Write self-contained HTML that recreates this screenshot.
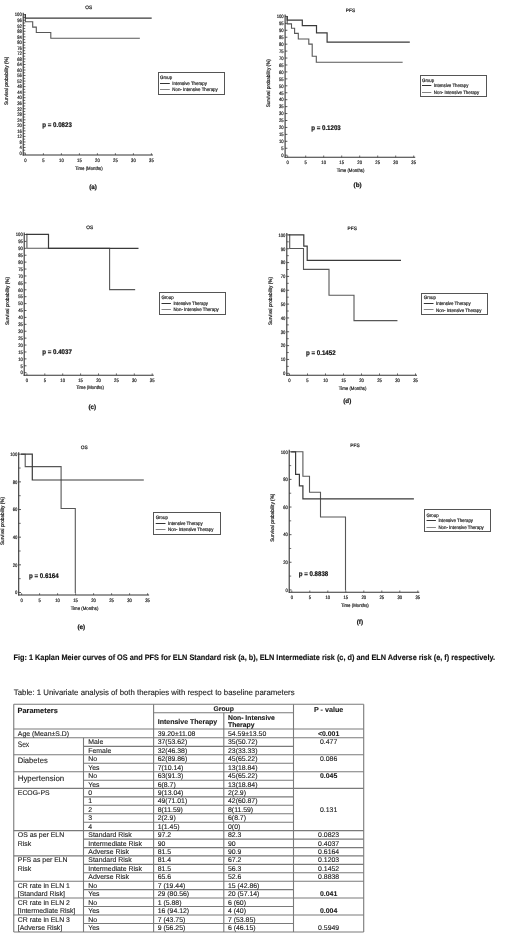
<!DOCTYPE html>
<html><head><meta charset="utf-8"><title>Kaplan Meier curves</title>
<style>
html,body{margin:0;padding:0;background:#fff;}
body{width:520px;height:943px;overflow:hidden;position:relative;font-family:"Liberation Sans", sans-serif;}
svg{position:absolute;left:0;top:0;font-family:"Liberation Sans", sans-serif;will-change:transform;text-rendering:geometricPrecision;}
</style></head><body>
<div id="wrap" style="position:absolute;left:0;top:0;width:520px;height:943px;background:#fff">
<svg width="520" height="943" viewBox="0 0 520 943">
<line x1="23.20" y1="12.70" x2="23.20" y2="155.50" stroke="#333" stroke-width="1.1"/>
<line x1="22.70" y1="155.00" x2="152.90" y2="155.00" stroke="#333" stroke-width="1.1"/>
<line x1="23.20" y1="153.00" x2="25.50" y2="153.00" stroke="#333" stroke-width="0.8"/>
<text x="21.80" y="154.76" font-size="4.90" text-anchor="end" stroke="#222" stroke-width="0.2" textLength="2.34" lengthAdjust="spacingAndGlyphs" fill="#222">0</text>
<line x1="23.20" y1="147.47" x2="25.50" y2="147.47" stroke="#333" stroke-width="0.8"/>
<text x="21.80" y="149.23" font-size="4.90" text-anchor="end" stroke="#222" stroke-width="0.2" textLength="2.34" lengthAdjust="spacingAndGlyphs" fill="#222">4</text>
<line x1="23.20" y1="141.94" x2="25.50" y2="141.94" stroke="#333" stroke-width="0.8"/>
<text x="21.80" y="143.70" font-size="4.90" text-anchor="end" stroke="#222" stroke-width="0.2" textLength="2.34" lengthAdjust="spacingAndGlyphs" fill="#222">8</text>
<line x1="23.20" y1="136.40" x2="25.50" y2="136.40" stroke="#333" stroke-width="0.8"/>
<text x="21.80" y="138.17" font-size="4.90" text-anchor="end" stroke="#222" stroke-width="0.2" textLength="4.67" lengthAdjust="spacingAndGlyphs" fill="#222">12</text>
<line x1="23.20" y1="130.87" x2="25.50" y2="130.87" stroke="#333" stroke-width="0.8"/>
<text x="21.80" y="132.64" font-size="4.90" text-anchor="end" stroke="#222" stroke-width="0.2" textLength="4.67" lengthAdjust="spacingAndGlyphs" fill="#222">16</text>
<line x1="23.20" y1="125.34" x2="25.50" y2="125.34" stroke="#333" stroke-width="0.8"/>
<text x="21.80" y="127.10" font-size="4.90" text-anchor="end" stroke="#222" stroke-width="0.2" textLength="4.67" lengthAdjust="spacingAndGlyphs" fill="#222">20</text>
<line x1="23.20" y1="119.81" x2="25.50" y2="119.81" stroke="#333" stroke-width="0.8"/>
<text x="21.80" y="121.57" font-size="4.90" text-anchor="end" stroke="#222" stroke-width="0.2" textLength="4.67" lengthAdjust="spacingAndGlyphs" fill="#222">24</text>
<line x1="23.20" y1="114.28" x2="25.50" y2="114.28" stroke="#333" stroke-width="0.8"/>
<text x="21.80" y="116.04" font-size="4.90" text-anchor="end" stroke="#222" stroke-width="0.2" textLength="4.67" lengthAdjust="spacingAndGlyphs" fill="#222">28</text>
<line x1="23.20" y1="108.74" x2="25.50" y2="108.74" stroke="#333" stroke-width="0.8"/>
<text x="21.80" y="110.51" font-size="4.90" text-anchor="end" stroke="#222" stroke-width="0.2" textLength="4.67" lengthAdjust="spacingAndGlyphs" fill="#222">32</text>
<line x1="23.20" y1="103.21" x2="25.50" y2="103.21" stroke="#333" stroke-width="0.8"/>
<text x="21.80" y="104.98" font-size="4.90" text-anchor="end" stroke="#222" stroke-width="0.2" textLength="4.67" lengthAdjust="spacingAndGlyphs" fill="#222">36</text>
<line x1="23.20" y1="97.68" x2="25.50" y2="97.68" stroke="#333" stroke-width="0.8"/>
<text x="21.80" y="99.44" font-size="4.90" text-anchor="end" stroke="#222" stroke-width="0.2" textLength="4.67" lengthAdjust="spacingAndGlyphs" fill="#222">40</text>
<line x1="23.20" y1="92.15" x2="25.50" y2="92.15" stroke="#333" stroke-width="0.8"/>
<text x="21.80" y="93.91" font-size="4.90" text-anchor="end" stroke="#222" stroke-width="0.2" textLength="4.67" lengthAdjust="spacingAndGlyphs" fill="#222">44</text>
<line x1="23.20" y1="86.62" x2="25.50" y2="86.62" stroke="#333" stroke-width="0.8"/>
<text x="21.80" y="88.38" font-size="4.90" text-anchor="end" stroke="#222" stroke-width="0.2" textLength="4.67" lengthAdjust="spacingAndGlyphs" fill="#222">48</text>
<line x1="23.20" y1="81.08" x2="25.50" y2="81.08" stroke="#333" stroke-width="0.8"/>
<text x="21.80" y="82.85" font-size="4.90" text-anchor="end" stroke="#222" stroke-width="0.2" textLength="4.67" lengthAdjust="spacingAndGlyphs" fill="#222">52</text>
<line x1="23.20" y1="75.55" x2="25.50" y2="75.55" stroke="#333" stroke-width="0.8"/>
<text x="21.80" y="77.32" font-size="4.90" text-anchor="end" stroke="#222" stroke-width="0.2" textLength="4.67" lengthAdjust="spacingAndGlyphs" fill="#222">56</text>
<line x1="23.20" y1="70.02" x2="25.50" y2="70.02" stroke="#333" stroke-width="0.8"/>
<text x="21.80" y="71.78" font-size="4.90" text-anchor="end" stroke="#222" stroke-width="0.2" textLength="4.67" lengthAdjust="spacingAndGlyphs" fill="#222">60</text>
<line x1="23.20" y1="64.49" x2="25.50" y2="64.49" stroke="#333" stroke-width="0.8"/>
<text x="21.80" y="66.25" font-size="4.90" text-anchor="end" stroke="#222" stroke-width="0.2" textLength="4.67" lengthAdjust="spacingAndGlyphs" fill="#222">64</text>
<line x1="23.20" y1="58.96" x2="25.50" y2="58.96" stroke="#333" stroke-width="0.8"/>
<text x="21.80" y="60.72" font-size="4.90" text-anchor="end" stroke="#222" stroke-width="0.2" textLength="4.67" lengthAdjust="spacingAndGlyphs" fill="#222">68</text>
<line x1="23.20" y1="53.42" x2="25.50" y2="53.42" stroke="#333" stroke-width="0.8"/>
<text x="21.80" y="55.19" font-size="4.90" text-anchor="end" stroke="#222" stroke-width="0.2" textLength="4.67" lengthAdjust="spacingAndGlyphs" fill="#222">72</text>
<line x1="23.20" y1="47.89" x2="25.50" y2="47.89" stroke="#333" stroke-width="0.8"/>
<text x="21.80" y="49.66" font-size="4.90" text-anchor="end" stroke="#222" stroke-width="0.2" textLength="4.67" lengthAdjust="spacingAndGlyphs" fill="#222">76</text>
<line x1="23.20" y1="42.36" x2="25.50" y2="42.36" stroke="#333" stroke-width="0.8"/>
<text x="21.80" y="44.12" font-size="4.90" text-anchor="end" stroke="#222" stroke-width="0.2" textLength="4.67" lengthAdjust="spacingAndGlyphs" fill="#222">80</text>
<line x1="23.20" y1="36.83" x2="25.50" y2="36.83" stroke="#333" stroke-width="0.8"/>
<text x="21.80" y="38.59" font-size="4.90" text-anchor="end" stroke="#222" stroke-width="0.2" textLength="4.67" lengthAdjust="spacingAndGlyphs" fill="#222">84</text>
<line x1="23.20" y1="31.30" x2="25.50" y2="31.30" stroke="#333" stroke-width="0.8"/>
<text x="21.80" y="33.06" font-size="4.90" text-anchor="end" stroke="#222" stroke-width="0.2" textLength="4.67" lengthAdjust="spacingAndGlyphs" fill="#222">88</text>
<line x1="23.20" y1="25.76" x2="25.50" y2="25.76" stroke="#333" stroke-width="0.8"/>
<text x="21.80" y="27.53" font-size="4.90" text-anchor="end" stroke="#222" stroke-width="0.2" textLength="4.67" lengthAdjust="spacingAndGlyphs" fill="#222">92</text>
<line x1="23.20" y1="20.23" x2="25.50" y2="20.23" stroke="#333" stroke-width="0.8"/>
<text x="21.80" y="22.00" font-size="4.90" text-anchor="end" stroke="#222" stroke-width="0.2" textLength="4.67" lengthAdjust="spacingAndGlyphs" fill="#222">96</text>
<line x1="23.20" y1="14.70" x2="25.50" y2="14.70" stroke="#333" stroke-width="0.8"/>
<text x="21.80" y="16.46" font-size="4.90" text-anchor="end" stroke="#222" stroke-width="0.2" textLength="7.01" lengthAdjust="spacingAndGlyphs" fill="#222">100</text>
<line x1="23.20" y1="150.23" x2="25.20" y2="150.23" stroke="#333" stroke-width="0.7"/>
<line x1="23.20" y1="144.70" x2="25.20" y2="144.70" stroke="#333" stroke-width="0.7"/>
<line x1="23.20" y1="139.17" x2="25.20" y2="139.17" stroke="#333" stroke-width="0.7"/>
<line x1="23.20" y1="133.64" x2="25.20" y2="133.64" stroke="#333" stroke-width="0.7"/>
<line x1="23.20" y1="128.11" x2="25.20" y2="128.11" stroke="#333" stroke-width="0.7"/>
<line x1="23.20" y1="122.57" x2="25.20" y2="122.57" stroke="#333" stroke-width="0.7"/>
<line x1="23.20" y1="117.04" x2="25.20" y2="117.04" stroke="#333" stroke-width="0.7"/>
<line x1="23.20" y1="111.51" x2="25.20" y2="111.51" stroke="#333" stroke-width="0.7"/>
<line x1="23.20" y1="105.98" x2="25.20" y2="105.98" stroke="#333" stroke-width="0.7"/>
<line x1="23.20" y1="100.45" x2="25.20" y2="100.45" stroke="#333" stroke-width="0.7"/>
<line x1="23.20" y1="94.91" x2="25.20" y2="94.91" stroke="#333" stroke-width="0.7"/>
<line x1="23.20" y1="89.38" x2="25.20" y2="89.38" stroke="#333" stroke-width="0.7"/>
<line x1="23.20" y1="83.85" x2="25.20" y2="83.85" stroke="#333" stroke-width="0.7"/>
<line x1="23.20" y1="78.32" x2="25.20" y2="78.32" stroke="#333" stroke-width="0.7"/>
<line x1="23.20" y1="72.79" x2="25.20" y2="72.79" stroke="#333" stroke-width="0.7"/>
<line x1="23.20" y1="67.25" x2="25.20" y2="67.25" stroke="#333" stroke-width="0.7"/>
<line x1="23.20" y1="61.72" x2="25.20" y2="61.72" stroke="#333" stroke-width="0.7"/>
<line x1="23.20" y1="56.19" x2="25.20" y2="56.19" stroke="#333" stroke-width="0.7"/>
<line x1="23.20" y1="50.66" x2="25.20" y2="50.66" stroke="#333" stroke-width="0.7"/>
<line x1="23.20" y1="45.13" x2="25.20" y2="45.13" stroke="#333" stroke-width="0.7"/>
<line x1="23.20" y1="39.59" x2="25.20" y2="39.59" stroke="#333" stroke-width="0.7"/>
<line x1="23.20" y1="34.06" x2="25.20" y2="34.06" stroke="#333" stroke-width="0.7"/>
<line x1="23.20" y1="28.53" x2="25.20" y2="28.53" stroke="#333" stroke-width="0.7"/>
<line x1="23.20" y1="23.00" x2="25.20" y2="23.00" stroke="#333" stroke-width="0.7"/>
<line x1="23.20" y1="17.47" x2="25.20" y2="17.47" stroke="#333" stroke-width="0.7"/>
<line x1="25.40" y1="155.00" x2="25.40" y2="153.20" stroke="#333" stroke-width="0.7"/>
<text x="25.40" y="161.76" font-size="4.90" text-anchor="middle" stroke="#222" stroke-width="0.2" textLength="2.34" lengthAdjust="spacingAndGlyphs" fill="#222">0</text>
<line x1="43.40" y1="155.00" x2="43.40" y2="153.20" stroke="#333" stroke-width="0.7"/>
<text x="43.40" y="161.76" font-size="4.90" text-anchor="middle" stroke="#222" stroke-width="0.2" textLength="2.34" lengthAdjust="spacingAndGlyphs" fill="#222">5</text>
<line x1="61.40" y1="155.00" x2="61.40" y2="153.20" stroke="#333" stroke-width="0.7"/>
<text x="61.40" y="161.76" font-size="4.90" text-anchor="middle" stroke="#222" stroke-width="0.2" textLength="4.67" lengthAdjust="spacingAndGlyphs" fill="#222">10</text>
<line x1="79.40" y1="155.00" x2="79.40" y2="153.20" stroke="#333" stroke-width="0.7"/>
<text x="79.40" y="161.76" font-size="4.90" text-anchor="middle" stroke="#222" stroke-width="0.2" textLength="4.67" lengthAdjust="spacingAndGlyphs" fill="#222">15</text>
<line x1="97.40" y1="155.00" x2="97.40" y2="153.20" stroke="#333" stroke-width="0.7"/>
<text x="97.40" y="161.76" font-size="4.90" text-anchor="middle" stroke="#222" stroke-width="0.2" textLength="4.67" lengthAdjust="spacingAndGlyphs" fill="#222">20</text>
<line x1="115.40" y1="155.00" x2="115.40" y2="153.20" stroke="#333" stroke-width="0.7"/>
<text x="115.40" y="161.76" font-size="4.90" text-anchor="middle" stroke="#222" stroke-width="0.2" textLength="4.67" lengthAdjust="spacingAndGlyphs" fill="#222">25</text>
<line x1="133.40" y1="155.00" x2="133.40" y2="153.20" stroke="#333" stroke-width="0.7"/>
<text x="133.40" y="161.76" font-size="4.90" text-anchor="middle" stroke="#222" stroke-width="0.2" textLength="4.67" lengthAdjust="spacingAndGlyphs" fill="#222">30</text>
<line x1="151.40" y1="155.00" x2="151.40" y2="153.20" stroke="#333" stroke-width="0.7"/>
<text x="151.40" y="161.76" font-size="4.90" text-anchor="middle" stroke="#222" stroke-width="0.2" textLength="4.67" lengthAdjust="spacingAndGlyphs" fill="#222">35</text>
<text x="88.85" y="169.91" font-size="4.90" text-anchor="middle" stroke="#222" stroke-width="0.2" textLength="27.70" lengthAdjust="spacingAndGlyphs" fill="#222">Time (Months)</text>
<text x="0.00" y="1.84" font-size="5.10" text-anchor="middle" stroke="#222" stroke-width="0.2" textLength="48.20" lengthAdjust="spacingAndGlyphs" fill="#222" transform="translate(6.00,80.80) rotate(-90)">Survival probability (%)</text>
<text x="88.70" y="9.23" font-size="4.80" text-anchor="middle" stroke="#222" stroke-width="0.2" fill="#222">OS</text>
<path d="M25.4,14.6 V21.7 H32.7 V27.1 H36.3 V32.5 H50.8 V38.3 H139.3" fill="none" stroke="#575757" stroke-width="1.1" stroke-linejoin="miter" stroke-linecap="square"/>
<path d="M25.4,14.6 V18.1 H151.1" fill="none" stroke="#3a3a3a" stroke-width="1.2" stroke-linejoin="miter" stroke-linecap="square"/>
<rect x="158.50" y="72.50" width="66.00" height="22.00" fill="none" stroke="#555" stroke-width="1.0"/>
<text x="160.00" y="79.33" font-size="4.80" text-anchor="start" stroke="#222" stroke-width="0.2" textLength="12.20" lengthAdjust="spacingAndGlyphs" fill="#222">Group</text>
<line x1="160.00" y1="83.50" x2="169.80" y2="83.50" stroke="#333" stroke-width="1.0"/>
<line x1="160.00" y1="89.50" x2="169.80" y2="89.50" stroke="#666" stroke-width="0.8"/>
<text x="172.30" y="85.23" font-size="4.80" text-anchor="start" stroke="#222" stroke-width="0.2" textLength="34.60" lengthAdjust="spacingAndGlyphs" fill="#222">Intensive Therapy</text>
<text x="172.30" y="90.93" font-size="4.80" text-anchor="start" stroke="#222" stroke-width="0.2" textLength="45.40" lengthAdjust="spacingAndGlyphs" fill="#222">Non- Intensive Therapy</text>
<text x="42.30" y="127.31" font-size="6.70" text-anchor="start" font-weight="bold" stroke="#111" stroke-width="0.2" textLength="29.60" lengthAdjust="spacingAndGlyphs" fill="#111">p = 0.0823</text>
<text x="93.00" y="189.17" font-size="6.30" text-anchor="middle" font-weight="bold" stroke="#111" stroke-width="0.2" fill="#111">(a)</text>
<line x1="285.10" y1="14.40" x2="285.10" y2="157.80" stroke="#333" stroke-width="1.1"/>
<line x1="284.60" y1="157.30" x2="415.20" y2="157.30" stroke="#333" stroke-width="1.1"/>
<line x1="285.10" y1="155.20" x2="287.40" y2="155.20" stroke="#333" stroke-width="0.8"/>
<text x="283.70" y="156.96" font-size="4.90" text-anchor="end" stroke="#222" stroke-width="0.2" textLength="2.34" lengthAdjust="spacingAndGlyphs" fill="#222">0</text>
<line x1="285.10" y1="148.26" x2="287.40" y2="148.26" stroke="#333" stroke-width="0.8"/>
<text x="283.70" y="150.02" font-size="4.90" text-anchor="end" stroke="#222" stroke-width="0.2" textLength="2.34" lengthAdjust="spacingAndGlyphs" fill="#222">5</text>
<line x1="285.10" y1="141.32" x2="287.40" y2="141.32" stroke="#333" stroke-width="0.8"/>
<text x="283.70" y="143.08" font-size="4.90" text-anchor="end" stroke="#222" stroke-width="0.2" textLength="4.67" lengthAdjust="spacingAndGlyphs" fill="#222">10</text>
<line x1="285.10" y1="134.38" x2="287.40" y2="134.38" stroke="#333" stroke-width="0.8"/>
<text x="283.70" y="136.14" font-size="4.90" text-anchor="end" stroke="#222" stroke-width="0.2" textLength="4.67" lengthAdjust="spacingAndGlyphs" fill="#222">15</text>
<line x1="285.10" y1="127.44" x2="287.40" y2="127.44" stroke="#333" stroke-width="0.8"/>
<text x="283.70" y="129.20" font-size="4.90" text-anchor="end" stroke="#222" stroke-width="0.2" textLength="4.67" lengthAdjust="spacingAndGlyphs" fill="#222">20</text>
<line x1="285.10" y1="120.50" x2="287.40" y2="120.50" stroke="#333" stroke-width="0.8"/>
<text x="283.70" y="122.26" font-size="4.90" text-anchor="end" stroke="#222" stroke-width="0.2" textLength="4.67" lengthAdjust="spacingAndGlyphs" fill="#222">25</text>
<line x1="285.10" y1="113.56" x2="287.40" y2="113.56" stroke="#333" stroke-width="0.8"/>
<text x="283.70" y="115.32" font-size="4.90" text-anchor="end" stroke="#222" stroke-width="0.2" textLength="4.67" lengthAdjust="spacingAndGlyphs" fill="#222">30</text>
<line x1="285.10" y1="106.62" x2="287.40" y2="106.62" stroke="#333" stroke-width="0.8"/>
<text x="283.70" y="108.38" font-size="4.90" text-anchor="end" stroke="#222" stroke-width="0.2" textLength="4.67" lengthAdjust="spacingAndGlyphs" fill="#222">35</text>
<line x1="285.10" y1="99.68" x2="287.40" y2="99.68" stroke="#333" stroke-width="0.8"/>
<text x="283.70" y="101.44" font-size="4.90" text-anchor="end" stroke="#222" stroke-width="0.2" textLength="4.67" lengthAdjust="spacingAndGlyphs" fill="#222">40</text>
<line x1="285.10" y1="92.74" x2="287.40" y2="92.74" stroke="#333" stroke-width="0.8"/>
<text x="283.70" y="94.50" font-size="4.90" text-anchor="end" stroke="#222" stroke-width="0.2" textLength="4.67" lengthAdjust="spacingAndGlyphs" fill="#222">45</text>
<line x1="285.10" y1="85.80" x2="287.40" y2="85.80" stroke="#333" stroke-width="0.8"/>
<text x="283.70" y="87.56" font-size="4.90" text-anchor="end" stroke="#222" stroke-width="0.2" textLength="4.67" lengthAdjust="spacingAndGlyphs" fill="#222">50</text>
<line x1="285.10" y1="78.86" x2="287.40" y2="78.86" stroke="#333" stroke-width="0.8"/>
<text x="283.70" y="80.62" font-size="4.90" text-anchor="end" stroke="#222" stroke-width="0.2" textLength="4.67" lengthAdjust="spacingAndGlyphs" fill="#222">55</text>
<line x1="285.10" y1="71.92" x2="287.40" y2="71.92" stroke="#333" stroke-width="0.8"/>
<text x="283.70" y="73.68" font-size="4.90" text-anchor="end" stroke="#222" stroke-width="0.2" textLength="4.67" lengthAdjust="spacingAndGlyphs" fill="#222">60</text>
<line x1="285.10" y1="64.98" x2="287.40" y2="64.98" stroke="#333" stroke-width="0.8"/>
<text x="283.70" y="66.74" font-size="4.90" text-anchor="end" stroke="#222" stroke-width="0.2" textLength="4.67" lengthAdjust="spacingAndGlyphs" fill="#222">65</text>
<line x1="285.10" y1="58.04" x2="287.40" y2="58.04" stroke="#333" stroke-width="0.8"/>
<text x="283.70" y="59.80" font-size="4.90" text-anchor="end" stroke="#222" stroke-width="0.2" textLength="4.67" lengthAdjust="spacingAndGlyphs" fill="#222">70</text>
<line x1="285.10" y1="51.10" x2="287.40" y2="51.10" stroke="#333" stroke-width="0.8"/>
<text x="283.70" y="52.86" font-size="4.90" text-anchor="end" stroke="#222" stroke-width="0.2" textLength="4.67" lengthAdjust="spacingAndGlyphs" fill="#222">75</text>
<line x1="285.10" y1="44.16" x2="287.40" y2="44.16" stroke="#333" stroke-width="0.8"/>
<text x="283.70" y="45.92" font-size="4.90" text-anchor="end" stroke="#222" stroke-width="0.2" textLength="4.67" lengthAdjust="spacingAndGlyphs" fill="#222">80</text>
<line x1="285.10" y1="37.22" x2="287.40" y2="37.22" stroke="#333" stroke-width="0.8"/>
<text x="283.70" y="38.98" font-size="4.90" text-anchor="end" stroke="#222" stroke-width="0.2" textLength="4.67" lengthAdjust="spacingAndGlyphs" fill="#222">85</text>
<line x1="285.10" y1="30.28" x2="287.40" y2="30.28" stroke="#333" stroke-width="0.8"/>
<text x="283.70" y="32.04" font-size="4.90" text-anchor="end" stroke="#222" stroke-width="0.2" textLength="4.67" lengthAdjust="spacingAndGlyphs" fill="#222">90</text>
<line x1="285.10" y1="23.34" x2="287.40" y2="23.34" stroke="#333" stroke-width="0.8"/>
<text x="283.70" y="25.10" font-size="4.90" text-anchor="end" stroke="#222" stroke-width="0.2" textLength="4.67" lengthAdjust="spacingAndGlyphs" fill="#222">95</text>
<line x1="285.10" y1="16.40" x2="287.40" y2="16.40" stroke="#333" stroke-width="0.8"/>
<text x="283.70" y="18.16" font-size="4.90" text-anchor="end" stroke="#222" stroke-width="0.2" textLength="7.01" lengthAdjust="spacingAndGlyphs" fill="#222">100</text>
<line x1="287.70" y1="157.30" x2="287.70" y2="155.50" stroke="#333" stroke-width="0.7"/>
<text x="287.70" y="164.06" font-size="4.90" text-anchor="middle" stroke="#222" stroke-width="0.2" textLength="2.34" lengthAdjust="spacingAndGlyphs" fill="#222">0</text>
<line x1="305.70" y1="157.30" x2="305.70" y2="155.50" stroke="#333" stroke-width="0.7"/>
<text x="305.70" y="164.06" font-size="4.90" text-anchor="middle" stroke="#222" stroke-width="0.2" textLength="2.34" lengthAdjust="spacingAndGlyphs" fill="#222">5</text>
<line x1="323.70" y1="157.30" x2="323.70" y2="155.50" stroke="#333" stroke-width="0.7"/>
<text x="323.70" y="164.06" font-size="4.90" text-anchor="middle" stroke="#222" stroke-width="0.2" textLength="4.67" lengthAdjust="spacingAndGlyphs" fill="#222">10</text>
<line x1="341.70" y1="157.30" x2="341.70" y2="155.50" stroke="#333" stroke-width="0.7"/>
<text x="341.70" y="164.06" font-size="4.90" text-anchor="middle" stroke="#222" stroke-width="0.2" textLength="4.67" lengthAdjust="spacingAndGlyphs" fill="#222">15</text>
<line x1="359.70" y1="157.30" x2="359.70" y2="155.50" stroke="#333" stroke-width="0.7"/>
<text x="359.70" y="164.06" font-size="4.90" text-anchor="middle" stroke="#222" stroke-width="0.2" textLength="4.67" lengthAdjust="spacingAndGlyphs" fill="#222">20</text>
<line x1="377.70" y1="157.30" x2="377.70" y2="155.50" stroke="#333" stroke-width="0.7"/>
<text x="377.70" y="164.06" font-size="4.90" text-anchor="middle" stroke="#222" stroke-width="0.2" textLength="4.67" lengthAdjust="spacingAndGlyphs" fill="#222">25</text>
<line x1="395.70" y1="157.30" x2="395.70" y2="155.50" stroke="#333" stroke-width="0.7"/>
<text x="395.70" y="164.06" font-size="4.90" text-anchor="middle" stroke="#222" stroke-width="0.2" textLength="4.67" lengthAdjust="spacingAndGlyphs" fill="#222">30</text>
<line x1="413.70" y1="157.30" x2="413.70" y2="155.50" stroke="#333" stroke-width="0.7"/>
<text x="413.70" y="164.06" font-size="4.90" text-anchor="middle" stroke="#222" stroke-width="0.2" textLength="4.67" lengthAdjust="spacingAndGlyphs" fill="#222">35</text>
<text x="350.60" y="172.11" font-size="4.90" text-anchor="middle" stroke="#222" stroke-width="0.2" textLength="27.70" lengthAdjust="spacingAndGlyphs" fill="#222">Time (Months)</text>
<text x="0.00" y="1.84" font-size="5.10" text-anchor="middle" stroke="#222" stroke-width="0.2" textLength="48.20" lengthAdjust="spacingAndGlyphs" fill="#222" transform="translate(267.90,83.20) rotate(-90)">Survival probability (%)</text>
<text x="350.50" y="11.73" font-size="4.80" text-anchor="middle" stroke="#222" stroke-width="0.2" fill="#222">PFS</text>
<path d="M287.2,16.5 V23.9 H291.5 V28.3 H294.6 V33.4 H298.3 V39 H308.8 V44.1 H312.2 V56.3 H316.3 V62.2 H402.1" fill="none" stroke="#575757" stroke-width="1.1" stroke-linejoin="miter" stroke-linecap="square"/>
<path d="M287.2,16.5 V20.1 H302.3 V25.6 H316.5 V32.9 H327.1 V42.2 H409.2" fill="none" stroke="#3a3a3a" stroke-width="1.2" stroke-linejoin="miter" stroke-linecap="square"/>
<rect x="420.50" y="75.50" width="66.00" height="21.00" fill="none" stroke="#555" stroke-width="1.0"/>
<text x="422.00" y="81.73" font-size="4.80" text-anchor="start" stroke="#222" stroke-width="0.2" textLength="12.20" lengthAdjust="spacingAndGlyphs" fill="#222">Group</text>
<line x1="422.00" y1="85.50" x2="431.30" y2="85.50" stroke="#333" stroke-width="1.0"/>
<line x1="422.00" y1="92.50" x2="431.30" y2="92.50" stroke="#666" stroke-width="0.8"/>
<text x="433.80" y="87.43" font-size="4.80" text-anchor="start" stroke="#222" stroke-width="0.2" textLength="34.60" lengthAdjust="spacingAndGlyphs" fill="#222">Intensive Therapy</text>
<text x="433.80" y="93.73" font-size="4.80" text-anchor="start" stroke="#222" stroke-width="0.2" textLength="45.40" lengthAdjust="spacingAndGlyphs" fill="#222">Non- Intensive Therapy</text>
<text x="311.20" y="129.91" font-size="6.70" text-anchor="start" font-weight="bold" stroke="#111" stroke-width="0.2" textLength="29.60" lengthAdjust="spacingAndGlyphs" fill="#111">p = 0.1203</text>
<text x="357.60" y="186.77" font-size="6.30" text-anchor="middle" font-weight="bold" stroke="#111" stroke-width="0.2" fill="#111">(b)</text>
<line x1="24.20" y1="232.50" x2="24.20" y2="375.70" stroke="#333" stroke-width="1.1"/>
<line x1="23.70" y1="375.20" x2="153.70" y2="375.20" stroke="#333" stroke-width="1.1"/>
<line x1="24.20" y1="372.70" x2="26.50" y2="372.70" stroke="#333" stroke-width="0.8"/>
<text x="22.80" y="374.46" font-size="4.90" text-anchor="end" stroke="#222" stroke-width="0.2" textLength="2.34" lengthAdjust="spacingAndGlyphs" fill="#222">0</text>
<line x1="24.20" y1="365.79" x2="26.50" y2="365.79" stroke="#333" stroke-width="0.8"/>
<text x="22.80" y="367.55" font-size="4.90" text-anchor="end" stroke="#222" stroke-width="0.2" textLength="2.34" lengthAdjust="spacingAndGlyphs" fill="#222">5</text>
<line x1="24.20" y1="358.88" x2="26.50" y2="358.88" stroke="#333" stroke-width="0.8"/>
<text x="22.80" y="360.64" font-size="4.90" text-anchor="end" stroke="#222" stroke-width="0.2" textLength="4.67" lengthAdjust="spacingAndGlyphs" fill="#222">10</text>
<line x1="24.20" y1="351.97" x2="26.50" y2="351.97" stroke="#333" stroke-width="0.8"/>
<text x="22.80" y="353.73" font-size="4.90" text-anchor="end" stroke="#222" stroke-width="0.2" textLength="4.67" lengthAdjust="spacingAndGlyphs" fill="#222">15</text>
<line x1="24.20" y1="345.06" x2="26.50" y2="345.06" stroke="#333" stroke-width="0.8"/>
<text x="22.80" y="346.82" font-size="4.90" text-anchor="end" stroke="#222" stroke-width="0.2" textLength="4.67" lengthAdjust="spacingAndGlyphs" fill="#222">20</text>
<line x1="24.20" y1="338.15" x2="26.50" y2="338.15" stroke="#333" stroke-width="0.8"/>
<text x="22.80" y="339.91" font-size="4.90" text-anchor="end" stroke="#222" stroke-width="0.2" textLength="4.67" lengthAdjust="spacingAndGlyphs" fill="#222">25</text>
<line x1="24.20" y1="331.24" x2="26.50" y2="331.24" stroke="#333" stroke-width="0.8"/>
<text x="22.80" y="333.00" font-size="4.90" text-anchor="end" stroke="#222" stroke-width="0.2" textLength="4.67" lengthAdjust="spacingAndGlyphs" fill="#222">30</text>
<line x1="24.20" y1="324.33" x2="26.50" y2="324.33" stroke="#333" stroke-width="0.8"/>
<text x="22.80" y="326.09" font-size="4.90" text-anchor="end" stroke="#222" stroke-width="0.2" textLength="4.67" lengthAdjust="spacingAndGlyphs" fill="#222">35</text>
<line x1="24.20" y1="317.42" x2="26.50" y2="317.42" stroke="#333" stroke-width="0.8"/>
<text x="22.80" y="319.18" font-size="4.90" text-anchor="end" stroke="#222" stroke-width="0.2" textLength="4.67" lengthAdjust="spacingAndGlyphs" fill="#222">40</text>
<line x1="24.20" y1="310.51" x2="26.50" y2="310.51" stroke="#333" stroke-width="0.8"/>
<text x="22.80" y="312.27" font-size="4.90" text-anchor="end" stroke="#222" stroke-width="0.2" textLength="4.67" lengthAdjust="spacingAndGlyphs" fill="#222">45</text>
<line x1="24.20" y1="303.60" x2="26.50" y2="303.60" stroke="#333" stroke-width="0.8"/>
<text x="22.80" y="305.36" font-size="4.90" text-anchor="end" stroke="#222" stroke-width="0.2" textLength="4.67" lengthAdjust="spacingAndGlyphs" fill="#222">50</text>
<line x1="24.20" y1="296.69" x2="26.50" y2="296.69" stroke="#333" stroke-width="0.8"/>
<text x="22.80" y="298.45" font-size="4.90" text-anchor="end" stroke="#222" stroke-width="0.2" textLength="4.67" lengthAdjust="spacingAndGlyphs" fill="#222">55</text>
<line x1="24.20" y1="289.78" x2="26.50" y2="289.78" stroke="#333" stroke-width="0.8"/>
<text x="22.80" y="291.54" font-size="4.90" text-anchor="end" stroke="#222" stroke-width="0.2" textLength="4.67" lengthAdjust="spacingAndGlyphs" fill="#222">60</text>
<line x1="24.20" y1="282.87" x2="26.50" y2="282.87" stroke="#333" stroke-width="0.8"/>
<text x="22.80" y="284.63" font-size="4.90" text-anchor="end" stroke="#222" stroke-width="0.2" textLength="4.67" lengthAdjust="spacingAndGlyphs" fill="#222">65</text>
<line x1="24.20" y1="275.96" x2="26.50" y2="275.96" stroke="#333" stroke-width="0.8"/>
<text x="22.80" y="277.72" font-size="4.90" text-anchor="end" stroke="#222" stroke-width="0.2" textLength="4.67" lengthAdjust="spacingAndGlyphs" fill="#222">70</text>
<line x1="24.20" y1="269.05" x2="26.50" y2="269.05" stroke="#333" stroke-width="0.8"/>
<text x="22.80" y="270.81" font-size="4.90" text-anchor="end" stroke="#222" stroke-width="0.2" textLength="4.67" lengthAdjust="spacingAndGlyphs" fill="#222">75</text>
<line x1="24.20" y1="262.14" x2="26.50" y2="262.14" stroke="#333" stroke-width="0.8"/>
<text x="22.80" y="263.90" font-size="4.90" text-anchor="end" stroke="#222" stroke-width="0.2" textLength="4.67" lengthAdjust="spacingAndGlyphs" fill="#222">80</text>
<line x1="24.20" y1="255.23" x2="26.50" y2="255.23" stroke="#333" stroke-width="0.8"/>
<text x="22.80" y="256.99" font-size="4.90" text-anchor="end" stroke="#222" stroke-width="0.2" textLength="4.67" lengthAdjust="spacingAndGlyphs" fill="#222">85</text>
<line x1="24.20" y1="248.32" x2="26.50" y2="248.32" stroke="#333" stroke-width="0.8"/>
<text x="22.80" y="250.08" font-size="4.90" text-anchor="end" stroke="#222" stroke-width="0.2" textLength="4.67" lengthAdjust="spacingAndGlyphs" fill="#222">90</text>
<line x1="24.20" y1="241.41" x2="26.50" y2="241.41" stroke="#333" stroke-width="0.8"/>
<text x="22.80" y="243.17" font-size="4.90" text-anchor="end" stroke="#222" stroke-width="0.2" textLength="4.67" lengthAdjust="spacingAndGlyphs" fill="#222">95</text>
<line x1="24.20" y1="234.50" x2="26.50" y2="234.50" stroke="#333" stroke-width="0.8"/>
<text x="22.80" y="236.26" font-size="4.90" text-anchor="end" stroke="#222" stroke-width="0.2" textLength="7.01" lengthAdjust="spacingAndGlyphs" fill="#222">100</text>
<line x1="26.90" y1="375.20" x2="26.90" y2="373.40" stroke="#333" stroke-width="0.7"/>
<text x="26.90" y="381.96" font-size="4.90" text-anchor="middle" stroke="#222" stroke-width="0.2" textLength="2.34" lengthAdjust="spacingAndGlyphs" fill="#222">0</text>
<line x1="44.80" y1="375.20" x2="44.80" y2="373.40" stroke="#333" stroke-width="0.7"/>
<text x="44.80" y="381.96" font-size="4.90" text-anchor="middle" stroke="#222" stroke-width="0.2" textLength="2.34" lengthAdjust="spacingAndGlyphs" fill="#222">5</text>
<line x1="62.70" y1="375.20" x2="62.70" y2="373.40" stroke="#333" stroke-width="0.7"/>
<text x="62.70" y="381.96" font-size="4.90" text-anchor="middle" stroke="#222" stroke-width="0.2" textLength="4.67" lengthAdjust="spacingAndGlyphs" fill="#222">10</text>
<line x1="80.60" y1="375.20" x2="80.60" y2="373.40" stroke="#333" stroke-width="0.7"/>
<text x="80.60" y="381.96" font-size="4.90" text-anchor="middle" stroke="#222" stroke-width="0.2" textLength="4.67" lengthAdjust="spacingAndGlyphs" fill="#222">15</text>
<line x1="98.50" y1="375.20" x2="98.50" y2="373.40" stroke="#333" stroke-width="0.7"/>
<text x="98.50" y="381.96" font-size="4.90" text-anchor="middle" stroke="#222" stroke-width="0.2" textLength="4.67" lengthAdjust="spacingAndGlyphs" fill="#222">20</text>
<line x1="116.40" y1="375.20" x2="116.40" y2="373.40" stroke="#333" stroke-width="0.7"/>
<text x="116.40" y="381.96" font-size="4.90" text-anchor="middle" stroke="#222" stroke-width="0.2" textLength="4.67" lengthAdjust="spacingAndGlyphs" fill="#222">25</text>
<line x1="134.30" y1="375.20" x2="134.30" y2="373.40" stroke="#333" stroke-width="0.7"/>
<text x="134.30" y="381.96" font-size="4.90" text-anchor="middle" stroke="#222" stroke-width="0.2" textLength="4.67" lengthAdjust="spacingAndGlyphs" fill="#222">30</text>
<line x1="152.20" y1="375.20" x2="152.20" y2="373.40" stroke="#333" stroke-width="0.7"/>
<text x="152.20" y="381.96" font-size="4.90" text-anchor="middle" stroke="#222" stroke-width="0.2" textLength="4.67" lengthAdjust="spacingAndGlyphs" fill="#222">35</text>
<text x="90.00" y="389.31" font-size="4.90" text-anchor="middle" stroke="#222" stroke-width="0.2" textLength="27.70" lengthAdjust="spacingAndGlyphs" fill="#222">Time (Months)</text>
<text x="0.00" y="1.84" font-size="5.10" text-anchor="middle" stroke="#222" stroke-width="0.2" textLength="48.20" lengthAdjust="spacingAndGlyphs" fill="#222" transform="translate(7.00,301.00) rotate(-90)">Survival probability (%)</text>
<text x="89.80" y="229.43" font-size="4.80" text-anchor="middle" stroke="#222" stroke-width="0.2" fill="#222">OS</text>
<path d="M26.9,234.3 V248.3 H109.6 V289.6 H134.6" fill="none" stroke="#575757" stroke-width="1.1" stroke-linejoin="miter" stroke-linecap="square"/>
<path d="M26.5,234.3 H48.5 V248.3 H137.9" fill="none" stroke="#3a3a3a" stroke-width="1.2" stroke-linejoin="miter" stroke-linecap="square"/>
<rect x="159.50" y="292.50" width="66.00" height="22.00" fill="none" stroke="#555" stroke-width="1.0"/>
<text x="161.50" y="299.03" font-size="4.80" text-anchor="start" stroke="#222" stroke-width="0.2" textLength="12.20" lengthAdjust="spacingAndGlyphs" fill="#222">Group</text>
<line x1="161.50" y1="303.50" x2="170.90" y2="303.50" stroke="#333" stroke-width="1.0"/>
<line x1="161.50" y1="309.50" x2="170.90" y2="309.50" stroke="#666" stroke-width="0.8"/>
<text x="173.40" y="304.73" font-size="4.80" text-anchor="start" stroke="#222" stroke-width="0.2" textLength="34.60" lengthAdjust="spacingAndGlyphs" fill="#222">Intensive Therapy</text>
<text x="173.40" y="311.13" font-size="4.80" text-anchor="start" stroke="#222" stroke-width="0.2" textLength="45.40" lengthAdjust="spacingAndGlyphs" fill="#222">Non- Intensive Therapy</text>
<text x="42.30" y="354.41" font-size="6.70" text-anchor="start" font-weight="bold" stroke="#111" stroke-width="0.2" textLength="29.60" lengthAdjust="spacingAndGlyphs" fill="#111">p = 0.4037</text>
<text x="92.30" y="408.57" font-size="6.30" text-anchor="middle" font-weight="bold" stroke="#111" stroke-width="0.2" fill="#111">(c)</text>
<line x1="286.80" y1="232.90" x2="286.80" y2="375.70" stroke="#333" stroke-width="1.1"/>
<line x1="286.30" y1="375.20" x2="417.00" y2="375.20" stroke="#333" stroke-width="1.1"/>
<line x1="286.80" y1="373.30" x2="289.10" y2="373.30" stroke="#333" stroke-width="0.8"/>
<text x="285.40" y="375.06" font-size="4.90" text-anchor="end" stroke="#222" stroke-width="0.2" textLength="2.34" lengthAdjust="spacingAndGlyphs" fill="#222">0</text>
<line x1="286.80" y1="359.46" x2="289.10" y2="359.46" stroke="#333" stroke-width="0.8"/>
<text x="285.40" y="361.22" font-size="4.90" text-anchor="end" stroke="#222" stroke-width="0.2" textLength="4.67" lengthAdjust="spacingAndGlyphs" fill="#222">10</text>
<line x1="286.80" y1="345.62" x2="289.10" y2="345.62" stroke="#333" stroke-width="0.8"/>
<text x="285.40" y="347.38" font-size="4.90" text-anchor="end" stroke="#222" stroke-width="0.2" textLength="4.67" lengthAdjust="spacingAndGlyphs" fill="#222">20</text>
<line x1="286.80" y1="331.78" x2="289.10" y2="331.78" stroke="#333" stroke-width="0.8"/>
<text x="285.40" y="333.54" font-size="4.90" text-anchor="end" stroke="#222" stroke-width="0.2" textLength="4.67" lengthAdjust="spacingAndGlyphs" fill="#222">30</text>
<line x1="286.80" y1="317.94" x2="289.10" y2="317.94" stroke="#333" stroke-width="0.8"/>
<text x="285.40" y="319.70" font-size="4.90" text-anchor="end" stroke="#222" stroke-width="0.2" textLength="4.67" lengthAdjust="spacingAndGlyphs" fill="#222">40</text>
<line x1="286.80" y1="304.10" x2="289.10" y2="304.10" stroke="#333" stroke-width="0.8"/>
<text x="285.40" y="305.86" font-size="4.90" text-anchor="end" stroke="#222" stroke-width="0.2" textLength="4.67" lengthAdjust="spacingAndGlyphs" fill="#222">50</text>
<line x1="286.80" y1="290.26" x2="289.10" y2="290.26" stroke="#333" stroke-width="0.8"/>
<text x="285.40" y="292.02" font-size="4.90" text-anchor="end" stroke="#222" stroke-width="0.2" textLength="4.67" lengthAdjust="spacingAndGlyphs" fill="#222">60</text>
<line x1="286.80" y1="276.42" x2="289.10" y2="276.42" stroke="#333" stroke-width="0.8"/>
<text x="285.40" y="278.18" font-size="4.90" text-anchor="end" stroke="#222" stroke-width="0.2" textLength="4.67" lengthAdjust="spacingAndGlyphs" fill="#222">70</text>
<line x1="286.80" y1="262.58" x2="289.10" y2="262.58" stroke="#333" stroke-width="0.8"/>
<text x="285.40" y="264.34" font-size="4.90" text-anchor="end" stroke="#222" stroke-width="0.2" textLength="4.67" lengthAdjust="spacingAndGlyphs" fill="#222">80</text>
<line x1="286.80" y1="248.74" x2="289.10" y2="248.74" stroke="#333" stroke-width="0.8"/>
<text x="285.40" y="250.50" font-size="4.90" text-anchor="end" stroke="#222" stroke-width="0.2" textLength="4.67" lengthAdjust="spacingAndGlyphs" fill="#222">90</text>
<line x1="286.80" y1="234.90" x2="289.10" y2="234.90" stroke="#333" stroke-width="0.8"/>
<text x="285.40" y="236.66" font-size="4.90" text-anchor="end" stroke="#222" stroke-width="0.2" textLength="7.01" lengthAdjust="spacingAndGlyphs" fill="#222">100</text>
<line x1="286.80" y1="366.38" x2="288.80" y2="366.38" stroke="#333" stroke-width="0.7"/>
<line x1="286.80" y1="352.54" x2="288.80" y2="352.54" stroke="#333" stroke-width="0.7"/>
<line x1="286.80" y1="338.70" x2="288.80" y2="338.70" stroke="#333" stroke-width="0.7"/>
<line x1="286.80" y1="324.86" x2="288.80" y2="324.86" stroke="#333" stroke-width="0.7"/>
<line x1="286.80" y1="311.02" x2="288.80" y2="311.02" stroke="#333" stroke-width="0.7"/>
<line x1="286.80" y1="297.18" x2="288.80" y2="297.18" stroke="#333" stroke-width="0.7"/>
<line x1="286.80" y1="283.34" x2="288.80" y2="283.34" stroke="#333" stroke-width="0.7"/>
<line x1="286.80" y1="269.50" x2="288.80" y2="269.50" stroke="#333" stroke-width="0.7"/>
<line x1="286.80" y1="255.66" x2="288.80" y2="255.66" stroke="#333" stroke-width="0.7"/>
<line x1="286.80" y1="241.82" x2="288.80" y2="241.82" stroke="#333" stroke-width="0.7"/>
<line x1="289.50" y1="375.20" x2="289.50" y2="373.40" stroke="#333" stroke-width="0.7"/>
<text x="289.50" y="381.96" font-size="4.90" text-anchor="middle" stroke="#222" stroke-width="0.2" textLength="2.34" lengthAdjust="spacingAndGlyphs" fill="#222">0</text>
<line x1="307.50" y1="375.20" x2="307.50" y2="373.40" stroke="#333" stroke-width="0.7"/>
<text x="307.50" y="381.96" font-size="4.90" text-anchor="middle" stroke="#222" stroke-width="0.2" textLength="2.34" lengthAdjust="spacingAndGlyphs" fill="#222">5</text>
<line x1="325.50" y1="375.20" x2="325.50" y2="373.40" stroke="#333" stroke-width="0.7"/>
<text x="325.50" y="381.96" font-size="4.90" text-anchor="middle" stroke="#222" stroke-width="0.2" textLength="4.67" lengthAdjust="spacingAndGlyphs" fill="#222">10</text>
<line x1="343.50" y1="375.20" x2="343.50" y2="373.40" stroke="#333" stroke-width="0.7"/>
<text x="343.50" y="381.96" font-size="4.90" text-anchor="middle" stroke="#222" stroke-width="0.2" textLength="4.67" lengthAdjust="spacingAndGlyphs" fill="#222">15</text>
<line x1="361.50" y1="375.20" x2="361.50" y2="373.40" stroke="#333" stroke-width="0.7"/>
<text x="361.50" y="381.96" font-size="4.90" text-anchor="middle" stroke="#222" stroke-width="0.2" textLength="4.67" lengthAdjust="spacingAndGlyphs" fill="#222">20</text>
<line x1="379.50" y1="375.20" x2="379.50" y2="373.40" stroke="#333" stroke-width="0.7"/>
<text x="379.50" y="381.96" font-size="4.90" text-anchor="middle" stroke="#222" stroke-width="0.2" textLength="4.67" lengthAdjust="spacingAndGlyphs" fill="#222">25</text>
<line x1="397.50" y1="375.20" x2="397.50" y2="373.40" stroke="#333" stroke-width="0.7"/>
<text x="397.50" y="381.96" font-size="4.90" text-anchor="middle" stroke="#222" stroke-width="0.2" textLength="4.67" lengthAdjust="spacingAndGlyphs" fill="#222">30</text>
<line x1="415.50" y1="375.20" x2="415.50" y2="373.40" stroke="#333" stroke-width="0.7"/>
<text x="415.50" y="381.96" font-size="4.90" text-anchor="middle" stroke="#222" stroke-width="0.2" textLength="4.67" lengthAdjust="spacingAndGlyphs" fill="#222">35</text>
<text x="352.60" y="390.11" font-size="4.90" text-anchor="middle" stroke="#222" stroke-width="0.2" textLength="27.70" lengthAdjust="spacingAndGlyphs" fill="#222">Time (Months)</text>
<text x="0.00" y="1.84" font-size="5.10" text-anchor="middle" stroke="#222" stroke-width="0.2" textLength="48.20" lengthAdjust="spacingAndGlyphs" fill="#222" transform="translate(269.80,301.00) rotate(-90)">Survival probability (%)</text>
<text x="352.20" y="229.83" font-size="4.80" text-anchor="middle" stroke="#222" stroke-width="0.2" fill="#222">PFS</text>
<path d="M289.7,234.9 V248.5 H303.5 V269.4 H329.0 V295.3 H354.0 V320.6 H396.9" fill="none" stroke="#575757" stroke-width="1.1" stroke-linejoin="miter" stroke-linecap="square"/>
<path d="M289.2,234.9 H303.8 V246.2 H307.2 V260.3 H400.4" fill="none" stroke="#3a3a3a" stroke-width="1.2" stroke-linejoin="miter" stroke-linecap="square"/>
<rect x="421.50" y="293.50" width="66.00" height="21.00" fill="none" stroke="#555" stroke-width="1.0"/>
<text x="423.80" y="299.43" font-size="4.80" text-anchor="start" stroke="#222" stroke-width="0.2" textLength="12.20" lengthAdjust="spacingAndGlyphs" fill="#222">Group</text>
<line x1="423.80" y1="303.50" x2="433.50" y2="303.50" stroke="#333" stroke-width="1.0"/>
<line x1="423.80" y1="309.50" x2="433.50" y2="309.50" stroke="#666" stroke-width="0.8"/>
<text x="436.00" y="305.43" font-size="4.80" text-anchor="start" stroke="#222" stroke-width="0.2" textLength="34.60" lengthAdjust="spacingAndGlyphs" fill="#222">Intensive Therapy</text>
<text x="436.00" y="311.53" font-size="4.80" text-anchor="start" stroke="#222" stroke-width="0.2" textLength="45.40" lengthAdjust="spacingAndGlyphs" fill="#222">Non- Intensive Therapy</text>
<text x="306.00" y="354.51" font-size="6.70" text-anchor="start" font-weight="bold" stroke="#111" stroke-width="0.2" textLength="29.60" lengthAdjust="spacingAndGlyphs" fill="#111">p = 0.1452</text>
<text x="347.30" y="402.87" font-size="6.30" text-anchor="middle" font-weight="bold" stroke="#111" stroke-width="0.2" fill="#111">(d)</text>
<line x1="18.70" y1="452.20" x2="18.70" y2="595.50" stroke="#333" stroke-width="1.1"/>
<line x1="18.20" y1="595.00" x2="149.10" y2="595.00" stroke="#333" stroke-width="1.1"/>
<line x1="18.70" y1="592.50" x2="21.00" y2="592.50" stroke="#333" stroke-width="0.8"/>
<text x="17.30" y="594.26" font-size="4.90" text-anchor="end" stroke="#222" stroke-width="0.2" textLength="2.34" lengthAdjust="spacingAndGlyphs" fill="#222">0</text>
<line x1="18.70" y1="564.84" x2="21.00" y2="564.84" stroke="#333" stroke-width="0.8"/>
<text x="17.30" y="566.60" font-size="4.90" text-anchor="end" stroke="#222" stroke-width="0.2" textLength="4.67" lengthAdjust="spacingAndGlyphs" fill="#222">20</text>
<line x1="18.70" y1="537.18" x2="21.00" y2="537.18" stroke="#333" stroke-width="0.8"/>
<text x="17.30" y="538.94" font-size="4.90" text-anchor="end" stroke="#222" stroke-width="0.2" textLength="4.67" lengthAdjust="spacingAndGlyphs" fill="#222">40</text>
<line x1="18.70" y1="509.52" x2="21.00" y2="509.52" stroke="#333" stroke-width="0.8"/>
<text x="17.30" y="511.28" font-size="4.90" text-anchor="end" stroke="#222" stroke-width="0.2" textLength="4.67" lengthAdjust="spacingAndGlyphs" fill="#222">60</text>
<line x1="18.70" y1="481.86" x2="21.00" y2="481.86" stroke="#333" stroke-width="0.8"/>
<text x="17.30" y="483.62" font-size="4.90" text-anchor="end" stroke="#222" stroke-width="0.2" textLength="4.67" lengthAdjust="spacingAndGlyphs" fill="#222">80</text>
<line x1="18.70" y1="454.20" x2="21.00" y2="454.20" stroke="#333" stroke-width="0.8"/>
<text x="17.30" y="455.96" font-size="4.90" text-anchor="end" stroke="#222" stroke-width="0.2" textLength="7.01" lengthAdjust="spacingAndGlyphs" fill="#222">100</text>
<line x1="18.70" y1="578.67" x2="20.70" y2="578.67" stroke="#333" stroke-width="0.7"/>
<line x1="18.70" y1="551.01" x2="20.70" y2="551.01" stroke="#333" stroke-width="0.7"/>
<line x1="18.70" y1="523.35" x2="20.70" y2="523.35" stroke="#333" stroke-width="0.7"/>
<line x1="18.70" y1="495.69" x2="20.70" y2="495.69" stroke="#333" stroke-width="0.7"/>
<line x1="18.70" y1="468.03" x2="20.70" y2="468.03" stroke="#333" stroke-width="0.7"/>
<line x1="21.60" y1="595.00" x2="21.60" y2="593.20" stroke="#333" stroke-width="0.7"/>
<text x="21.60" y="601.76" font-size="4.90" text-anchor="middle" stroke="#222" stroke-width="0.2" textLength="2.34" lengthAdjust="spacingAndGlyphs" fill="#222">0</text>
<line x1="39.60" y1="595.00" x2="39.60" y2="593.20" stroke="#333" stroke-width="0.7"/>
<text x="39.60" y="601.76" font-size="4.90" text-anchor="middle" stroke="#222" stroke-width="0.2" textLength="2.34" lengthAdjust="spacingAndGlyphs" fill="#222">5</text>
<line x1="57.60" y1="595.00" x2="57.60" y2="593.20" stroke="#333" stroke-width="0.7"/>
<text x="57.60" y="601.76" font-size="4.90" text-anchor="middle" stroke="#222" stroke-width="0.2" textLength="4.67" lengthAdjust="spacingAndGlyphs" fill="#222">10</text>
<line x1="75.60" y1="595.00" x2="75.60" y2="593.20" stroke="#333" stroke-width="0.7"/>
<text x="75.60" y="601.76" font-size="4.90" text-anchor="middle" stroke="#222" stroke-width="0.2" textLength="4.67" lengthAdjust="spacingAndGlyphs" fill="#222">15</text>
<line x1="93.60" y1="595.00" x2="93.60" y2="593.20" stroke="#333" stroke-width="0.7"/>
<text x="93.60" y="601.76" font-size="4.90" text-anchor="middle" stroke="#222" stroke-width="0.2" textLength="4.67" lengthAdjust="spacingAndGlyphs" fill="#222">20</text>
<line x1="111.60" y1="595.00" x2="111.60" y2="593.20" stroke="#333" stroke-width="0.7"/>
<text x="111.60" y="601.76" font-size="4.90" text-anchor="middle" stroke="#222" stroke-width="0.2" textLength="4.67" lengthAdjust="spacingAndGlyphs" fill="#222">25</text>
<line x1="129.60" y1="595.00" x2="129.60" y2="593.20" stroke="#333" stroke-width="0.7"/>
<text x="129.60" y="601.76" font-size="4.90" text-anchor="middle" stroke="#222" stroke-width="0.2" textLength="4.67" lengthAdjust="spacingAndGlyphs" fill="#222">30</text>
<line x1="147.60" y1="595.00" x2="147.60" y2="593.20" stroke="#333" stroke-width="0.7"/>
<text x="147.60" y="601.76" font-size="4.90" text-anchor="middle" stroke="#222" stroke-width="0.2" textLength="4.67" lengthAdjust="spacingAndGlyphs" fill="#222">35</text>
<text x="84.50" y="609.51" font-size="4.90" text-anchor="middle" stroke="#222" stroke-width="0.2" textLength="27.70" lengthAdjust="spacingAndGlyphs" fill="#222">Time (Months)</text>
<text x="0.00" y="1.84" font-size="5.10" text-anchor="middle" stroke="#222" stroke-width="0.2" textLength="48.20" lengthAdjust="spacingAndGlyphs" fill="#222" transform="translate(1.70,521.00) rotate(-90)">Survival probability (%)</text>
<text x="84.30" y="449.13" font-size="4.80" text-anchor="middle" stroke="#222" stroke-width="0.2" fill="#222">OS</text>
<path d="M21.6,454.2 H25.2 V466.6 H61.1 V508.5 H75.3 V592.5" fill="none" stroke="#575757" stroke-width="1.1" stroke-linejoin="miter" stroke-linecap="square"/>
<path d="M21.6,454.2 H32.3 V480 H143.2" fill="none" stroke="#3a3a3a" stroke-width="1.2" stroke-linejoin="miter" stroke-linecap="square"/>
<rect x="153.50" y="512.50" width="67.00" height="22.00" fill="none" stroke="#555" stroke-width="1.0"/>
<text x="155.70" y="519.23" font-size="4.80" text-anchor="start" stroke="#222" stroke-width="0.2" textLength="12.20" lengthAdjust="spacingAndGlyphs" fill="#222">Group</text>
<line x1="155.70" y1="523.50" x2="165.50" y2="523.50" stroke="#333" stroke-width="1.0"/>
<line x1="155.70" y1="529.50" x2="165.50" y2="529.50" stroke="#666" stroke-width="0.8"/>
<text x="168.00" y="524.93" font-size="4.80" text-anchor="start" stroke="#222" stroke-width="0.2" textLength="34.60" lengthAdjust="spacingAndGlyphs" fill="#222">Intensive Therapy</text>
<text x="168.00" y="530.93" font-size="4.80" text-anchor="start" stroke="#222" stroke-width="0.2" textLength="45.40" lengthAdjust="spacingAndGlyphs" fill="#222">Non- Intensive Therapy</text>
<text x="29.10" y="578.01" font-size="6.70" text-anchor="start" font-weight="bold" stroke="#111" stroke-width="0.2" textLength="29.60" lengthAdjust="spacingAndGlyphs" fill="#111">p = 0.6164</text>
<text x="81.30" y="628.77" font-size="6.30" text-anchor="middle" font-weight="bold" stroke="#111" stroke-width="0.2" fill="#111">(e)</text>
<line x1="289.20" y1="449.80" x2="289.20" y2="592.80" stroke="#333" stroke-width="1.1"/>
<line x1="288.70" y1="592.30" x2="419.30" y2="592.30" stroke="#333" stroke-width="1.1"/>
<line x1="289.20" y1="589.90" x2="291.50" y2="589.90" stroke="#333" stroke-width="0.8"/>
<text x="287.80" y="591.66" font-size="4.90" text-anchor="end" stroke="#222" stroke-width="0.2" textLength="2.34" lengthAdjust="spacingAndGlyphs" fill="#222">0</text>
<line x1="289.20" y1="562.28" x2="291.50" y2="562.28" stroke="#333" stroke-width="0.8"/>
<text x="287.80" y="564.04" font-size="4.90" text-anchor="end" stroke="#222" stroke-width="0.2" textLength="4.67" lengthAdjust="spacingAndGlyphs" fill="#222">20</text>
<line x1="289.20" y1="534.66" x2="291.50" y2="534.66" stroke="#333" stroke-width="0.8"/>
<text x="287.80" y="536.42" font-size="4.90" text-anchor="end" stroke="#222" stroke-width="0.2" textLength="4.67" lengthAdjust="spacingAndGlyphs" fill="#222">40</text>
<line x1="289.20" y1="507.04" x2="291.50" y2="507.04" stroke="#333" stroke-width="0.8"/>
<text x="287.80" y="508.80" font-size="4.90" text-anchor="end" stroke="#222" stroke-width="0.2" textLength="4.67" lengthAdjust="spacingAndGlyphs" fill="#222">60</text>
<line x1="289.20" y1="479.42" x2="291.50" y2="479.42" stroke="#333" stroke-width="0.8"/>
<text x="287.80" y="481.18" font-size="4.90" text-anchor="end" stroke="#222" stroke-width="0.2" textLength="4.67" lengthAdjust="spacingAndGlyphs" fill="#222">80</text>
<line x1="289.20" y1="451.80" x2="291.50" y2="451.80" stroke="#333" stroke-width="0.8"/>
<text x="287.80" y="453.56" font-size="4.90" text-anchor="end" stroke="#222" stroke-width="0.2" textLength="7.01" lengthAdjust="spacingAndGlyphs" fill="#222">100</text>
<line x1="289.20" y1="576.09" x2="291.20" y2="576.09" stroke="#333" stroke-width="0.7"/>
<line x1="289.20" y1="548.47" x2="291.20" y2="548.47" stroke="#333" stroke-width="0.7"/>
<line x1="289.20" y1="520.85" x2="291.20" y2="520.85" stroke="#333" stroke-width="0.7"/>
<line x1="289.20" y1="493.23" x2="291.20" y2="493.23" stroke="#333" stroke-width="0.7"/>
<line x1="289.20" y1="465.61" x2="291.20" y2="465.61" stroke="#333" stroke-width="0.7"/>
<line x1="291.80" y1="592.30" x2="291.80" y2="590.50" stroke="#333" stroke-width="0.7"/>
<text x="291.80" y="599.06" font-size="4.90" text-anchor="middle" stroke="#222" stroke-width="0.2" textLength="2.34" lengthAdjust="spacingAndGlyphs" fill="#222">0</text>
<line x1="309.80" y1="592.30" x2="309.80" y2="590.50" stroke="#333" stroke-width="0.7"/>
<text x="309.80" y="599.06" font-size="4.90" text-anchor="middle" stroke="#222" stroke-width="0.2" textLength="2.34" lengthAdjust="spacingAndGlyphs" fill="#222">5</text>
<line x1="327.80" y1="592.30" x2="327.80" y2="590.50" stroke="#333" stroke-width="0.7"/>
<text x="327.80" y="599.06" font-size="4.90" text-anchor="middle" stroke="#222" stroke-width="0.2" textLength="4.67" lengthAdjust="spacingAndGlyphs" fill="#222">10</text>
<line x1="345.80" y1="592.30" x2="345.80" y2="590.50" stroke="#333" stroke-width="0.7"/>
<text x="345.80" y="599.06" font-size="4.90" text-anchor="middle" stroke="#222" stroke-width="0.2" textLength="4.67" lengthAdjust="spacingAndGlyphs" fill="#222">15</text>
<line x1="363.80" y1="592.30" x2="363.80" y2="590.50" stroke="#333" stroke-width="0.7"/>
<text x="363.80" y="599.06" font-size="4.90" text-anchor="middle" stroke="#222" stroke-width="0.2" textLength="4.67" lengthAdjust="spacingAndGlyphs" fill="#222">20</text>
<line x1="381.80" y1="592.30" x2="381.80" y2="590.50" stroke="#333" stroke-width="0.7"/>
<text x="381.80" y="599.06" font-size="4.90" text-anchor="middle" stroke="#222" stroke-width="0.2" textLength="4.67" lengthAdjust="spacingAndGlyphs" fill="#222">25</text>
<line x1="399.80" y1="592.30" x2="399.80" y2="590.50" stroke="#333" stroke-width="0.7"/>
<text x="399.80" y="599.06" font-size="4.90" text-anchor="middle" stroke="#222" stroke-width="0.2" textLength="4.67" lengthAdjust="spacingAndGlyphs" fill="#222">30</text>
<line x1="417.80" y1="592.30" x2="417.80" y2="590.50" stroke="#333" stroke-width="0.7"/>
<text x="417.80" y="599.06" font-size="4.90" text-anchor="middle" stroke="#222" stroke-width="0.2" textLength="4.67" lengthAdjust="spacingAndGlyphs" fill="#222">35</text>
<text x="354.90" y="606.81" font-size="4.90" text-anchor="middle" stroke="#222" stroke-width="0.2" textLength="27.70" lengthAdjust="spacingAndGlyphs" fill="#222">Time (Months)</text>
<text x="0.00" y="1.84" font-size="5.10" text-anchor="middle" stroke="#222" stroke-width="0.2" textLength="48.20" lengthAdjust="spacingAndGlyphs" fill="#222" transform="translate(272.00,517.70) rotate(-90)">Survival probability (%)</text>
<text x="355.00" y="446.53" font-size="4.80" text-anchor="middle" stroke="#222" stroke-width="0.2" fill="#222">PFS</text>
<path d="M291.8,451.8 H302.9 V476.3 H309.5 V492.2 H320.5 V517 H345.5 V589.9" fill="none" stroke="#575757" stroke-width="1.1" stroke-linejoin="miter" stroke-linecap="square"/>
<path d="M291.8,451.8 H295.6 V474.3 H299.4 V485.9 H302.9 V498.8 H413.3" fill="none" stroke="#3a3a3a" stroke-width="1.2" stroke-linejoin="miter" stroke-linecap="square"/>
<rect x="424.50" y="509.50" width="66.00" height="22.00" fill="none" stroke="#555" stroke-width="1.0"/>
<text x="426.50" y="516.63" font-size="4.80" text-anchor="start" stroke="#222" stroke-width="0.2" textLength="12.20" lengthAdjust="spacingAndGlyphs" fill="#222">Group</text>
<line x1="426.50" y1="520.50" x2="435.90" y2="520.50" stroke="#333" stroke-width="1.0"/>
<line x1="426.50" y1="527.50" x2="435.90" y2="527.50" stroke="#666" stroke-width="0.8"/>
<text x="438.40" y="522.33" font-size="4.80" text-anchor="start" stroke="#222" stroke-width="0.2" textLength="34.60" lengthAdjust="spacingAndGlyphs" fill="#222">Intensive Therapy</text>
<text x="438.40" y="528.73" font-size="4.80" text-anchor="start" stroke="#222" stroke-width="0.2" textLength="45.40" lengthAdjust="spacingAndGlyphs" fill="#222">Non- Intensive Therapy</text>
<text x="298.70" y="575.51" font-size="6.70" text-anchor="start" font-weight="bold" stroke="#111" stroke-width="0.2" textLength="29.60" lengthAdjust="spacingAndGlyphs" fill="#111">p = 0.8838</text>
<text x="359.90" y="624.17" font-size="6.30" text-anchor="middle" font-weight="bold" stroke="#111" stroke-width="0.2" fill="#111">(f)</text>
<text x="13.5" y="659.7" font-size="8" font-weight="bold" fill="#111" stroke="#111" stroke-width="0.15" textLength="481.5" lengthAdjust="spacingAndGlyphs">Fig: 1 Kaplan Meier curves of OS and PFS for ELN Standard risk (a, b), ELN Intermediate risk (c, d) and ELN Adverse risk (e, f) respectively.</text>
<text x="13.8" y="694.7" font-size="8" fill="#1a1a1a" stroke="#1a1a1a" stroke-width="0.12" textLength="280.8" lengthAdjust="spacingAndGlyphs">Table: 1 Univariate analysis of both therapies with respect to baseline parameters</text>
<line x1="13.75" y1="704.30" x2="363.70" y2="704.30" stroke="#7a7a7a" stroke-width="1.1"/>
<line x1="153.60" y1="712.70" x2="293.50" y2="712.70" stroke="#7a7a7a" stroke-width="1.1"/>
<line x1="13.75" y1="704.30" x2="13.75" y2="932.00" stroke="#7a7a7a" stroke-width="1.1"/>
<line x1="153.60" y1="704.30" x2="153.60" y2="932.00" stroke="#7a7a7a" stroke-width="1.1"/>
<line x1="293.50" y1="704.30" x2="293.50" y2="932.00" stroke="#7a7a7a" stroke-width="1.1"/>
<line x1="363.70" y1="704.30" x2="363.70" y2="932.00" stroke="#7a7a7a" stroke-width="1.1"/>
<line x1="223.80" y1="712.70" x2="223.80" y2="932.00" stroke="#7a7a7a" stroke-width="1.1"/>
<line x1="83.50" y1="737.80" x2="83.50" y2="932.00" stroke="#7a7a7a" stroke-width="1.1"/>
<line x1="13.75" y1="729.00" x2="363.70" y2="729.00" stroke="#7a7a7a" stroke-width="1.1"/>
<line x1="13.75" y1="737.80" x2="363.70" y2="737.80" stroke="#7a7a7a" stroke-width="1.1"/>
<line x1="83.50" y1="746.40" x2="293.50" y2="746.40" stroke="#7a7a7a" stroke-width="1.1"/>
<line x1="13.75" y1="754.70" x2="363.70" y2="754.70" stroke="#7a7a7a" stroke-width="1.1"/>
<line x1="83.50" y1="763.30" x2="293.50" y2="763.30" stroke="#7a7a7a" stroke-width="1.1"/>
<line x1="13.75" y1="771.80" x2="363.70" y2="771.80" stroke="#7a7a7a" stroke-width="1.1"/>
<line x1="83.50" y1="780.30" x2="293.50" y2="780.30" stroke="#7a7a7a" stroke-width="1.1"/>
<line x1="13.75" y1="788.40" x2="363.70" y2="788.40" stroke="#7a7a7a" stroke-width="1.1"/>
<line x1="83.50" y1="796.90" x2="293.50" y2="796.90" stroke="#7a7a7a" stroke-width="1.1"/>
<line x1="83.50" y1="805.30" x2="293.50" y2="805.30" stroke="#7a7a7a" stroke-width="1.1"/>
<line x1="83.50" y1="813.70" x2="293.50" y2="813.70" stroke="#7a7a7a" stroke-width="1.1"/>
<line x1="83.50" y1="822.20" x2="293.50" y2="822.20" stroke="#7a7a7a" stroke-width="1.1"/>
<line x1="13.75" y1="830.60" x2="363.70" y2="830.60" stroke="#7a7a7a" stroke-width="1.1"/>
<line x1="83.50" y1="839.10" x2="363.70" y2="839.10" stroke="#7a7a7a" stroke-width="1.1"/>
<line x1="83.50" y1="847.60" x2="363.70" y2="847.60" stroke="#7a7a7a" stroke-width="1.1"/>
<line x1="13.75" y1="855.90" x2="363.70" y2="855.90" stroke="#7a7a7a" stroke-width="1.1"/>
<line x1="83.50" y1="864.40" x2="363.70" y2="864.40" stroke="#7a7a7a" stroke-width="1.1"/>
<line x1="83.50" y1="872.80" x2="363.70" y2="872.80" stroke="#7a7a7a" stroke-width="1.1"/>
<line x1="13.75" y1="881.20" x2="363.70" y2="881.20" stroke="#7a7a7a" stroke-width="1.1"/>
<line x1="83.50" y1="889.60" x2="293.50" y2="889.60" stroke="#7a7a7a" stroke-width="1.1"/>
<line x1="13.75" y1="898.00" x2="363.70" y2="898.00" stroke="#7a7a7a" stroke-width="1.1"/>
<line x1="83.50" y1="906.50" x2="293.50" y2="906.50" stroke="#7a7a7a" stroke-width="1.1"/>
<line x1="13.75" y1="915.00" x2="363.70" y2="915.00" stroke="#7a7a7a" stroke-width="1.1"/>
<line x1="83.50" y1="923.50" x2="293.50" y2="923.50" stroke="#7a7a7a" stroke-width="1.1"/>
<line x1="13.75" y1="932.00" x2="363.70" y2="932.00" stroke="#7a7a7a" stroke-width="1.1"/>
<text x="17.50" y="713.16" font-size="7.40" text-anchor="start" font-weight="bold" stroke="#1a1a1a" stroke-width="0.12" fill="#1a1a1a">Parameters</text>
<text x="223.70" y="711.15" font-size="6.80" text-anchor="middle" font-weight="bold" stroke="#1a1a1a" stroke-width="0.12" fill="#1a1a1a">Group</text>
<text x="157.70" y="723.72" font-size="7.00" text-anchor="start" font-weight="bold" stroke="#1a1a1a" stroke-width="0.12" fill="#1a1a1a">Intensive Therapy</text>
<text x="228.00" y="719.75" font-size="6.80" text-anchor="start" font-weight="bold" stroke="#1a1a1a" stroke-width="0.12" fill="#1a1a1a">Non- Intensive</text>
<text x="228.00" y="727.25" font-size="6.80" text-anchor="start" font-weight="bold" stroke="#1a1a1a" stroke-width="0.12" fill="#1a1a1a">Therapy</text>
<text x="328.60" y="712.19" font-size="7.20" text-anchor="middle" font-weight="bold" stroke="#1a1a1a" stroke-width="0.12" fill="#1a1a1a">P - value</text>
<text x="17.80" y="735.68" font-size="6.90" text-anchor="start" stroke="#1a1a1a" stroke-width="0.12" fill="#1a1a1a">Age (Mean±S.D)</text>
<text x="17.80" y="794.93" font-size="6.90" text-anchor="start" stroke="#1a1a1a" stroke-width="0.12" fill="#1a1a1a">ECOG-PS</text>
<text x="17.80" y="837.13" font-size="6.90" text-anchor="start" stroke="#1a1a1a" stroke-width="0.12" fill="#1a1a1a">OS as per ELN</text>
<text x="17.80" y="845.63" font-size="6.90" text-anchor="start" stroke="#1a1a1a" stroke-width="0.12" fill="#1a1a1a">Risk</text>
<text x="17.80" y="862.43" font-size="6.90" text-anchor="start" stroke="#1a1a1a" stroke-width="0.12" fill="#1a1a1a">PFS as per ELN</text>
<text x="17.80" y="870.88" font-size="6.90" text-anchor="start" stroke="#1a1a1a" stroke-width="0.12" fill="#1a1a1a">Risk</text>
<text x="17.80" y="887.68" font-size="6.90" text-anchor="start" stroke="#1a1a1a" stroke-width="0.12" fill="#1a1a1a">CR rate in ELN 1</text>
<text x="17.80" y="896.08" font-size="6.90" text-anchor="start" stroke="#1a1a1a" stroke-width="0.12" fill="#1a1a1a">[Standard Risk]</text>
<text x="17.80" y="904.53" font-size="6.90" text-anchor="start" stroke="#1a1a1a" stroke-width="0.12" fill="#1a1a1a">CR rate in ELN 2</text>
<text x="17.80" y="913.03" font-size="6.90" text-anchor="start" stroke="#1a1a1a" stroke-width="0.12" fill="#1a1a1a">[Intermediate Risk]</text>
<text x="17.80" y="921.53" font-size="6.90" text-anchor="start" stroke="#1a1a1a" stroke-width="0.12" fill="#1a1a1a">CR rate in ELN 3</text>
<text x="17.80" y="930.03" font-size="6.90" text-anchor="start" stroke="#1a1a1a" stroke-width="0.12" fill="#1a1a1a">[Adverse Risk]</text>
<text x="17.7" y="746.50" font-size="8" fill="#1a1a1a" stroke="#1a1a1a" stroke-width="0.1" textLength="11.5" lengthAdjust="spacingAndGlyphs">Sex</text>
<text x="17.7" y="763.40" font-size="8" fill="#1a1a1a" stroke="#1a1a1a" stroke-width="0.1" textLength="30.0" lengthAdjust="spacingAndGlyphs">Diabetes</text>
<text x="17.7" y="780.50" font-size="8" fill="#1a1a1a" stroke="#1a1a1a" stroke-width="0.1" textLength="46.5" lengthAdjust="spacingAndGlyphs">Hypertension</text>
<text x="157.70" y="735.68" font-size="6.90" text-anchor="start" stroke="#1a1a1a" stroke-width="0.12" fill="#1a1a1a">39.20±11.08</text>
<text x="228.00" y="735.68" font-size="6.90" text-anchor="start" stroke="#1a1a1a" stroke-width="0.12" fill="#1a1a1a">54.59±13.50</text>
<text x="88.30" y="744.38" font-size="6.90" text-anchor="start" stroke="#1a1a1a" stroke-width="0.12" fill="#1a1a1a">Male</text>
<text x="157.70" y="744.38" font-size="6.90" text-anchor="start" stroke="#1a1a1a" stroke-width="0.12" fill="#1a1a1a">37(53.62)</text>
<text x="228.00" y="744.38" font-size="6.90" text-anchor="start" stroke="#1a1a1a" stroke-width="0.12" fill="#1a1a1a">35(50.72)</text>
<text x="88.30" y="752.83" font-size="6.90" text-anchor="start" stroke="#1a1a1a" stroke-width="0.12" fill="#1a1a1a">Female</text>
<text x="157.70" y="752.83" font-size="6.90" text-anchor="start" stroke="#1a1a1a" stroke-width="0.12" fill="#1a1a1a">32(46.38)</text>
<text x="228.00" y="752.83" font-size="6.90" text-anchor="start" stroke="#1a1a1a" stroke-width="0.12" fill="#1a1a1a">23(33.33)</text>
<text x="88.30" y="761.28" font-size="6.90" text-anchor="start" stroke="#1a1a1a" stroke-width="0.12" fill="#1a1a1a">No</text>
<text x="157.70" y="761.28" font-size="6.90" text-anchor="start" stroke="#1a1a1a" stroke-width="0.12" fill="#1a1a1a">62(89.86)</text>
<text x="228.00" y="761.28" font-size="6.90" text-anchor="start" stroke="#1a1a1a" stroke-width="0.12" fill="#1a1a1a">45(65.22)</text>
<text x="88.30" y="769.83" font-size="6.90" text-anchor="start" stroke="#1a1a1a" stroke-width="0.12" fill="#1a1a1a">Yes</text>
<text x="157.70" y="769.83" font-size="6.90" text-anchor="start" stroke="#1a1a1a" stroke-width="0.12" fill="#1a1a1a">7(10.14)</text>
<text x="228.00" y="769.83" font-size="6.90" text-anchor="start" stroke="#1a1a1a" stroke-width="0.12" fill="#1a1a1a">13(18.84)</text>
<text x="88.30" y="778.33" font-size="6.90" text-anchor="start" stroke="#1a1a1a" stroke-width="0.12" fill="#1a1a1a">No</text>
<text x="157.70" y="778.33" font-size="6.90" text-anchor="start" stroke="#1a1a1a" stroke-width="0.12" fill="#1a1a1a">63(91.3)</text>
<text x="228.00" y="778.33" font-size="6.90" text-anchor="start" stroke="#1a1a1a" stroke-width="0.12" fill="#1a1a1a">45(65.22)</text>
<text x="88.30" y="786.63" font-size="6.90" text-anchor="start" stroke="#1a1a1a" stroke-width="0.12" fill="#1a1a1a">Yes</text>
<text x="157.70" y="786.63" font-size="6.90" text-anchor="start" stroke="#1a1a1a" stroke-width="0.12" fill="#1a1a1a">6(8.7)</text>
<text x="228.00" y="786.63" font-size="6.90" text-anchor="start" stroke="#1a1a1a" stroke-width="0.12" fill="#1a1a1a">13(18.84)</text>
<text x="88.30" y="794.93" font-size="6.90" text-anchor="start" stroke="#1a1a1a" stroke-width="0.12" fill="#1a1a1a">0</text>
<text x="157.70" y="794.93" font-size="6.90" text-anchor="start" stroke="#1a1a1a" stroke-width="0.12" fill="#1a1a1a">9(13.04)</text>
<text x="228.00" y="794.93" font-size="6.90" text-anchor="start" stroke="#1a1a1a" stroke-width="0.12" fill="#1a1a1a">2(2.9)</text>
<text x="88.30" y="803.38" font-size="6.90" text-anchor="start" stroke="#1a1a1a" stroke-width="0.12" fill="#1a1a1a">1</text>
<text x="157.70" y="803.38" font-size="6.90" text-anchor="start" stroke="#1a1a1a" stroke-width="0.12" fill="#1a1a1a">49(71.01)</text>
<text x="228.00" y="803.38" font-size="6.90" text-anchor="start" stroke="#1a1a1a" stroke-width="0.12" fill="#1a1a1a">42(60.87)</text>
<text x="88.30" y="811.78" font-size="6.90" text-anchor="start" stroke="#1a1a1a" stroke-width="0.12" fill="#1a1a1a">2</text>
<text x="157.70" y="811.78" font-size="6.90" text-anchor="start" stroke="#1a1a1a" stroke-width="0.12" fill="#1a1a1a">8(11.59)</text>
<text x="228.00" y="811.78" font-size="6.90" text-anchor="start" stroke="#1a1a1a" stroke-width="0.12" fill="#1a1a1a">8(11.59)</text>
<text x="88.30" y="820.23" font-size="6.90" text-anchor="start" stroke="#1a1a1a" stroke-width="0.12" fill="#1a1a1a">3</text>
<text x="157.70" y="820.23" font-size="6.90" text-anchor="start" stroke="#1a1a1a" stroke-width="0.12" fill="#1a1a1a">2(2.9)</text>
<text x="228.00" y="820.23" font-size="6.90" text-anchor="start" stroke="#1a1a1a" stroke-width="0.12" fill="#1a1a1a">6(8.7)</text>
<text x="88.30" y="828.68" font-size="6.90" text-anchor="start" stroke="#1a1a1a" stroke-width="0.12" fill="#1a1a1a">4</text>
<text x="157.70" y="828.68" font-size="6.90" text-anchor="start" stroke="#1a1a1a" stroke-width="0.12" fill="#1a1a1a">1(1.45)</text>
<text x="228.00" y="828.68" font-size="6.90" text-anchor="start" stroke="#1a1a1a" stroke-width="0.12" fill="#1a1a1a">0(0)</text>
<text x="88.30" y="837.13" font-size="6.90" text-anchor="start" stroke="#1a1a1a" stroke-width="0.12" fill="#1a1a1a">Standard Risk</text>
<text x="157.70" y="837.13" font-size="6.90" text-anchor="start" stroke="#1a1a1a" stroke-width="0.12" fill="#1a1a1a">97.2</text>
<text x="228.00" y="837.13" font-size="6.90" text-anchor="start" stroke="#1a1a1a" stroke-width="0.12" fill="#1a1a1a">82.3</text>
<text x="88.30" y="845.63" font-size="6.90" text-anchor="start" stroke="#1a1a1a" stroke-width="0.12" fill="#1a1a1a">Intermediate Risk</text>
<text x="157.70" y="845.63" font-size="6.90" text-anchor="start" stroke="#1a1a1a" stroke-width="0.12" fill="#1a1a1a">90</text>
<text x="228.00" y="845.63" font-size="6.90" text-anchor="start" stroke="#1a1a1a" stroke-width="0.12" fill="#1a1a1a">90</text>
<text x="88.30" y="854.03" font-size="6.90" text-anchor="start" stroke="#1a1a1a" stroke-width="0.12" fill="#1a1a1a">Adverse Risk</text>
<text x="157.70" y="854.03" font-size="6.90" text-anchor="start" stroke="#1a1a1a" stroke-width="0.12" fill="#1a1a1a">81.5</text>
<text x="228.00" y="854.03" font-size="6.90" text-anchor="start" stroke="#1a1a1a" stroke-width="0.12" fill="#1a1a1a">90.9</text>
<text x="88.30" y="862.43" font-size="6.90" text-anchor="start" stroke="#1a1a1a" stroke-width="0.12" fill="#1a1a1a">Standard Risk</text>
<text x="157.70" y="862.43" font-size="6.90" text-anchor="start" stroke="#1a1a1a" stroke-width="0.12" fill="#1a1a1a">81.4</text>
<text x="228.00" y="862.43" font-size="6.90" text-anchor="start" stroke="#1a1a1a" stroke-width="0.12" fill="#1a1a1a">67.2</text>
<text x="88.30" y="870.88" font-size="6.90" text-anchor="start" stroke="#1a1a1a" stroke-width="0.12" fill="#1a1a1a">Intermediate Risk</text>
<text x="157.70" y="870.88" font-size="6.90" text-anchor="start" stroke="#1a1a1a" stroke-width="0.12" fill="#1a1a1a">81.5</text>
<text x="228.00" y="870.88" font-size="6.90" text-anchor="start" stroke="#1a1a1a" stroke-width="0.12" fill="#1a1a1a">56.3</text>
<text x="88.30" y="879.28" font-size="6.90" text-anchor="start" stroke="#1a1a1a" stroke-width="0.12" fill="#1a1a1a">Adverse Risk</text>
<text x="157.70" y="879.28" font-size="6.90" text-anchor="start" stroke="#1a1a1a" stroke-width="0.12" fill="#1a1a1a">65.6</text>
<text x="228.00" y="879.28" font-size="6.90" text-anchor="start" stroke="#1a1a1a" stroke-width="0.12" fill="#1a1a1a">52.6</text>
<text x="88.30" y="887.68" font-size="6.90" text-anchor="start" stroke="#1a1a1a" stroke-width="0.12" fill="#1a1a1a">No</text>
<text x="157.70" y="887.68" font-size="6.90" text-anchor="start" stroke="#1a1a1a" stroke-width="0.12" fill="#1a1a1a">7 (19.44)</text>
<text x="228.00" y="887.68" font-size="6.90" text-anchor="start" stroke="#1a1a1a" stroke-width="0.12" fill="#1a1a1a">15 (42.86)</text>
<text x="88.30" y="896.08" font-size="6.90" text-anchor="start" stroke="#1a1a1a" stroke-width="0.12" fill="#1a1a1a">Yes</text>
<text x="157.70" y="896.08" font-size="6.90" text-anchor="start" stroke="#1a1a1a" stroke-width="0.12" fill="#1a1a1a">29 (80.56)</text>
<text x="228.00" y="896.08" font-size="6.90" text-anchor="start" stroke="#1a1a1a" stroke-width="0.12" fill="#1a1a1a">20 (57.14)</text>
<text x="88.30" y="904.53" font-size="6.90" text-anchor="start" stroke="#1a1a1a" stroke-width="0.12" fill="#1a1a1a">No</text>
<text x="157.70" y="904.53" font-size="6.90" text-anchor="start" stroke="#1a1a1a" stroke-width="0.12" fill="#1a1a1a">1 (5.88)</text>
<text x="228.00" y="904.53" font-size="6.90" text-anchor="start" stroke="#1a1a1a" stroke-width="0.12" fill="#1a1a1a">6 (60)</text>
<text x="88.30" y="913.03" font-size="6.90" text-anchor="start" stroke="#1a1a1a" stroke-width="0.12" fill="#1a1a1a">Yes</text>
<text x="157.70" y="913.03" font-size="6.90" text-anchor="start" stroke="#1a1a1a" stroke-width="0.12" fill="#1a1a1a">16 (94.12)</text>
<text x="228.00" y="913.03" font-size="6.90" text-anchor="start" stroke="#1a1a1a" stroke-width="0.12" fill="#1a1a1a">4 (40)</text>
<text x="88.30" y="921.53" font-size="6.90" text-anchor="start" stroke="#1a1a1a" stroke-width="0.12" fill="#1a1a1a">No</text>
<text x="157.70" y="921.53" font-size="6.90" text-anchor="start" stroke="#1a1a1a" stroke-width="0.12" fill="#1a1a1a">7 (43.75)</text>
<text x="228.00" y="921.53" font-size="6.90" text-anchor="start" stroke="#1a1a1a" stroke-width="0.12" fill="#1a1a1a">7 (53.85)</text>
<text x="88.30" y="930.03" font-size="6.90" text-anchor="start" stroke="#1a1a1a" stroke-width="0.12" fill="#1a1a1a">Yes</text>
<text x="157.70" y="930.03" font-size="6.90" text-anchor="start" stroke="#1a1a1a" stroke-width="0.12" fill="#1a1a1a">9 (56.25)</text>
<text x="228.00" y="930.03" font-size="6.90" text-anchor="start" stroke="#1a1a1a" stroke-width="0.12" fill="#1a1a1a">6 (46.15)</text>
<text x="328.60" y="735.68" font-size="6.90" text-anchor="middle" font-weight="bold" stroke="#1a1a1a" stroke-width="0.12" fill="#1a1a1a">&lt;0.001</text>
<text x="328.60" y="744.38" font-size="6.90" text-anchor="middle" stroke="#1a1a1a" stroke-width="0.12" fill="#1a1a1a">0.477</text>
<text x="328.60" y="761.28" font-size="6.90" text-anchor="middle" stroke="#1a1a1a" stroke-width="0.12" fill="#1a1a1a">0.086</text>
<text x="328.60" y="778.33" font-size="6.90" text-anchor="middle" font-weight="bold" stroke="#1a1a1a" stroke-width="0.12" fill="#1a1a1a">0.045</text>
<text x="328.60" y="811.78" font-size="6.90" text-anchor="middle" stroke="#1a1a1a" stroke-width="0.12" fill="#1a1a1a">0.131</text>
<text x="328.60" y="837.13" font-size="6.90" text-anchor="middle" stroke="#1a1a1a" stroke-width="0.12" fill="#1a1a1a">0.0823</text>
<text x="328.60" y="845.63" font-size="6.90" text-anchor="middle" stroke="#1a1a1a" stroke-width="0.12" fill="#1a1a1a">0.4037</text>
<text x="328.60" y="854.03" font-size="6.90" text-anchor="middle" stroke="#1a1a1a" stroke-width="0.12" fill="#1a1a1a">0.6164</text>
<text x="328.60" y="862.43" font-size="6.90" text-anchor="middle" stroke="#1a1a1a" stroke-width="0.12" fill="#1a1a1a">0.1203</text>
<text x="328.60" y="870.88" font-size="6.90" text-anchor="middle" stroke="#1a1a1a" stroke-width="0.12" fill="#1a1a1a">0.1452</text>
<text x="328.60" y="879.28" font-size="6.90" text-anchor="middle" stroke="#1a1a1a" stroke-width="0.12" fill="#1a1a1a">0.8838</text>
<text x="328.60" y="896.08" font-size="6.90" text-anchor="middle" font-weight="bold" stroke="#1a1a1a" stroke-width="0.12" fill="#1a1a1a">0.041</text>
<text x="328.60" y="913.03" font-size="6.90" text-anchor="middle" font-weight="bold" stroke="#1a1a1a" stroke-width="0.12" fill="#1a1a1a">0.004</text>
<text x="328.60" y="930.03" font-size="6.90" text-anchor="middle" stroke="#1a1a1a" stroke-width="0.12" fill="#1a1a1a">0.5949</text>
</svg>
</div>
</body></html>
